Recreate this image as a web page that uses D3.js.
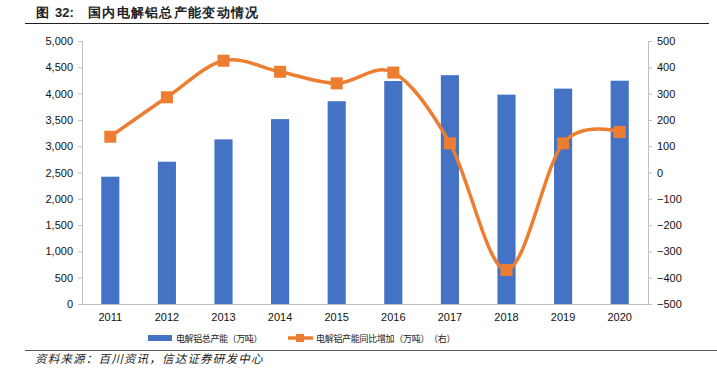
<!DOCTYPE html>
<html>
<head>
<meta charset="utf-8">
<script src="https://cdn.jsdelivr.net/npm/d3@7"></script>
<style>
  body { margin: 0; background: #fff; }
  svg { display: block; }
  text { font-family: "Liberation Sans", Arial, sans-serif; }
  .cjk { font-family: "Noto Sans CJK SC", sans-serif; }
</style>
</head>
<body>
<div id="chart"></div>
<script>
// data
var years = ['2011', '2012', '2013', '2014', '2015', '2016', '2017', '2018', '2019', '2020'];
var capacity = [2420, 2705, 3130, 3515, 3855, 4240, 4350, 3980, 4095, 4245];
var yoyAdd = [136, 286, 425, 383, 339, 380, 111, -371, 111, 154];
var leftTicks = [0, 500, 1000, 1500, 2000, 2500, 3000, 3500, 4000, 4500, 5000];
var rightTicks = [-500, -400, -300, -200, -100, 0, 100, 200, 300, 400, 500];

var W = 717, H = 377;
var plotL = 82, plotR = 648, plotT = 41, plotB = 304;
var barColor = '#4472C4', lineColor = '#ED7D31', axisColor = '#BFBFBF';

var svg = d3.select('#chart').append('svg')
  .attr('width', W)
  .attr('height', H);

/* title */
var title = svg.append('g').attr('class', 'cjk').attr('font-weight', 'bold').attr('fill', '#222');
title.append('text')
  .attr('x', 36).attr('y', 17).attr('font-size', 13)
  .text('图');
title.append('text')
  .attr('x', 55).attr('y', 17).attr('font-size', 13)
  .style('font-family', '"Liberation Sans", Arial, sans-serif')
  .text('32:');
title.append('text')
  .attr('x', 88).attr('y', 17).attr('font-size', 13)
  .attr('letter-spacing', 1.3)
  .text('国内电解铝总产能变动情况');

svg.append('line')
  .attr('x1', 25).attr('x2', 709).attr('y1', 23.5).attr('y2', 23.5)
  .attr('stroke', '#222').attr('stroke-width', 1.2);

/* scales */
var x = d3.scaleBand().domain(years).range([plotL, plotR]).paddingInner(0.68).paddingOuter(0.34);
var xc = function(d) { return x(d) + x.bandwidth() / 2; };
var yL = d3.scaleLinear().domain([0, 5000]).range([plotB, plotT]);
var yR = d3.scaleLinear().domain([-500, 500]).range([plotB, plotT]);

/* axes */
var leftAxis = d3.axisLeft(yL).tickValues(leftTicks).tickSize(4).tickPadding(5)
  .tickFormat(d3.format(','));
var gL = svg.append('g').attr('transform', 'translate(' + plotL + ',0)').call(leftAxis);

var rightAxis = d3.axisRight(yR).tickValues(rightTicks).tickSize(4).tickPadding(5);
var gR = svg.append('g').attr('transform', 'translate(' + plotR + ',0)').call(rightAxis);

var bottomAxis = d3.axisBottom(x).tickSize(0).tickPadding(9);
var gB = svg.append('g').attr('transform', 'translate(0,' + plotB + ')').call(bottomAxis);

[gL, gR, gB].forEach(function(g) {
  g.select('.domain').attr('stroke', axisColor);
  g.selectAll('.tick line').attr('stroke', axisColor);
  g.selectAll('.tick text').attr('fill', '#111').attr('font-size', 11)
    .style('font-family', '"Liberation Sans", Arial, sans-serif');
});

/* bars */
svg.append('g').selectAll('rect')
  .data(capacity)
  .enter().append('rect')
  .attr('x', function(d, i) { return x(years[i]); })
  .attr('y', function(d) { return yL(d); })
  .attr('width', x.bandwidth())
  .attr('height', function(d) { return yL(0) - yL(d); })
  .attr('fill', barColor);

/* smoothed line */
var line = d3.line()
  .x(function(d, i) { return xc(years[i]); })
  .y(function(d) { return yR(d); })
  .curve(d3.curveCardinal.tension(0));

svg.append('path')
  .datum(yoyAdd)
  .attr('d', line)
  .attr('fill', 'none')
  .attr('stroke', lineColor)
  .attr('stroke-width', 3.5);

var mk = 12;
svg.append('g').selectAll('rect')
  .data(yoyAdd)
  .enter().append('rect')
  .attr('x', function(d, i) { return xc(years[i]) - mk / 2; })
  .attr('y', function(d) { return yR(d) - mk / 2; })
  .attr('width', mk).attr('height', mk)
  .attr('fill', lineColor);

/* legend - one fixed advance per character, like the original */
var gridLabel = function(parent, lx, ly, step, str) {
  var xs = Array.from(str).map(function(c, i) { return (lx + i * step).toFixed(1); });
  parent.append('text')
    .attr('class', 'cjk')
    .attr('x', xs.join(' ')).attr('y', ly)
    .attr('font-size', 9).attr('fill', '#222')
    .text(str);
};

var lg = svg.append('g');
lg.append('rect')
  .attr('x', 148).attr('y', 335).attr('width', 24).attr('height', 6)
  .attr('fill', barColor);
gridLabel(lg, 176, 341.5, 8.6, '电解铝总产能（万吨）');

lg.append('line')
  .attr('x1', 288).attr('x2', 313).attr('y1', 338).attr('y2', 338)
  .attr('stroke', lineColor).attr('stroke-width', 3.5);
lg.append('rect')
  .attr('x', 296).attr('y', 334).attr('width', 8).attr('height', 8)
  .attr('fill', lineColor);
gridLabel(lg, 316, 341.5, 8.7, '电解铝产能同比增加（万吨）（右）');

/* source */
svg.append('line')
  .attr('x1', 25).attr('x2', 717).attr('y1', 350.5).attr('y2', 350.5)
  .attr('stroke', '#555').attr('stroke-width', 1);

svg.append('text')
  .attr('class', 'cjk')
  .attr('x', 35).attr('y', 363)
  .attr('font-size', 11.5).attr('letter-spacing', 1.2)
  .attr('font-style', 'italic').attr('fill', '#222')
  .text('资料来源：百川资讯，信达证券研发中心');
</script>
</body>
</html>
